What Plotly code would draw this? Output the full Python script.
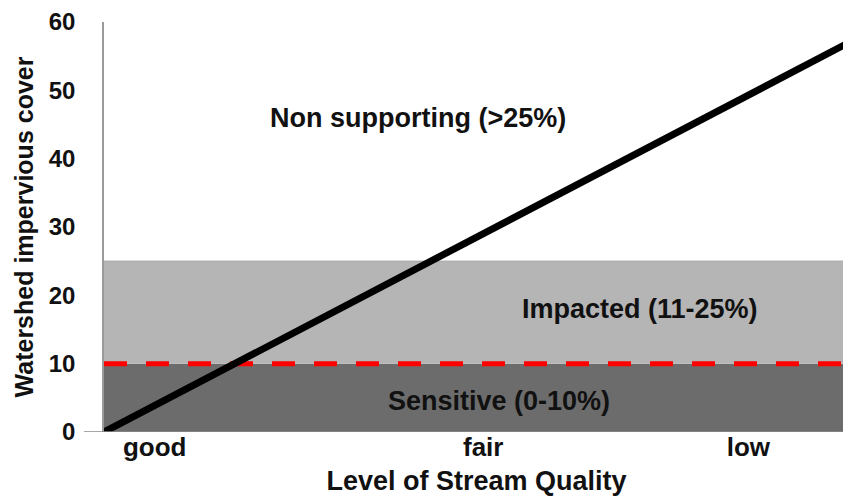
import plotly.graph_objects as go

# Data
categories = ["good", "fair", "low"]
category_pos = [0.68, 5.09, 8.65]
line_x = [0, 10]
line_y = [0, 57]
band_names = ["Sensitive (0-10%)", "Impacted (11-25%)", "Non supporting (>25%)"]
band_low = [0, 10, 25]
band_high = [10, 25, 60]
band_colors = ["#6c6c6c", "#b5b5b5", "#ffffff"]
threshold = 10
y_ticks = [0, 10, 20, 30, 40, 50, 60]
label_x = [5.3, 7.2, 4.22]
label_y = [4.5, 18.0, 46.0]

FONT = "Liberation Sans, Arial, sans-serif"

fig = go.Figure()

shapes = []
for lo, hi, col in zip(band_low, band_high, band_colors):
    shapes.append(dict(type="rect", xref="x", yref="y", x0=0, x1=10, y0=lo, y1=hi,
                       fillcolor=col, line=dict(width=0), layer="below"))
shapes.append(dict(type="line", xref="x", yref="y", x0=0, x1=10, y0=25, y1=25,
                   line=dict(color="#9a9a9a", width=1), layer="below"))
shapes.append(dict(type="line", xref="paper", yref="y", x0=-0.027, x1=1, y0=0, y1=0,
                   line=dict(color="#8a8a8a", width=1.5)))

fig.add_trace(go.Scatter(x=[0, 10], y=[threshold, threshold], mode="lines",
                         line=dict(color="#ff0000", width=5, dash="23px,19px"),
                         hoverinfo="skip", showlegend=False))
fig.add_trace(go.Scatter(x=line_x, y=line_y, mode="lines",
                         line=dict(color="#000000", width=7),
                         hoverinfo="skip", showlegend=False))

for name, lx, ly in zip(band_names, label_x, label_y):
    fig.add_annotation(x=lx, y=ly, xref="x", yref="y", text=f"<b>{name}</b>",
                       showarrow=False, font=dict(family=FONT, size=27, color="#111111"))

fig.update_layout(
    width=843, height=488,
    margin=dict(l=96, r=0, t=14, b=64),
    paper_bgcolor="#ffffff", plot_bgcolor="#ffffff",
    shapes=shapes,
    showlegend=False,
    xaxis=dict(range=[0, 10], tickvals=category_pos,
               ticktext=[f"<b>{c}</b>" for c in categories],
               tickfont=dict(family=FONT, size=26, color="#111111"),
               showgrid=False, zeroline=False,
               ticks="", ticklabelstandoff=-3,
               showline=False, mirror=False,
               title=dict(text="<b>Level of Stream Quality</b>",
                          font=dict(family=FONT, size=27, color="#111111"), standoff=13)),
    yaxis=dict(range=[0, 60], tickvals=y_ticks,
               ticktext=[f"<b>{t}</b>" for t in y_ticks],
               tickfont=dict(family=FONT, size=24, color="#111111"),
               showgrid=False, zeroline=False,
               ticks="outside", ticklen=22, tickcolor="rgba(0,0,0,0)",
               showline=True, linecolor="#9a9a9a", linewidth=1.5, mirror=True,
               title=dict(text="<b>Watershed impervious cover</b>",
                          font=dict(family=FONT, size=25, color="#111111"), standoff=8)),
)

fig.write_html("out.html")
